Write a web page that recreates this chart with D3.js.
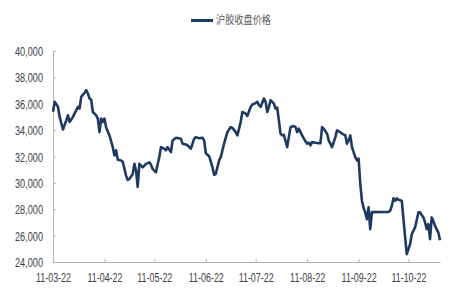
<!DOCTYPE html>
<html><head><meta charset="utf-8">
<script src="https://cdn.jsdelivr.net/npm/d3@7/dist/d3.min.js"></script>
<style>body{margin:0;background:#fff}svg{display:block}</style>
</head><body>
<svg id="c" width="450" height="300"></svg>
<script>
const seriesName = "沪胶收盘价格";
const dates = [
"2011-03-22","2011-03-23","2011-03-25","2011-03-26","2011-03-28","2011-03-30","2011-03-31",
"2011-04-01","2011-04-03","2011-04-06","2011-04-07","2011-04-08","2011-04-10","2011-04-11","2011-04-12","2011-04-13","2011-04-14","2011-04-15","2011-04-17","2011-04-18","2011-04-19","2011-04-20","2011-04-21","2011-04-22","2011-04-23","2011-04-25","2011-04-27","2011-04-28","2011-04-29","2011-04-30",
"2011-05-02","2011-05-03","2011-05-05","2011-05-06","2011-05-07","2011-05-09","2011-05-10","2011-05-11","2011-05-12","2011-05-13","2011-05-14","2011-05-15","2011-05-16","2011-05-17","2011-05-19","2011-05-20","2011-05-21","2011-05-23","2011-05-24","2011-05-25","2011-05-26","2011-05-28","2011-05-29","2011-05-30",
"2011-06-01","2011-06-02","2011-06-04","2011-06-07","2011-06-08","2011-06-10","2011-06-11","2011-06-13","2011-06-14","2011-06-15","2011-06-16","2011-06-18","2011-06-20","2011-06-21","2011-06-22","2011-06-24","2011-06-26","2011-06-27","2011-06-28","2011-06-30",
"2011-07-01","2011-07-03","2011-07-05","2011-07-07","2011-07-08","2011-07-10","2011-07-11","2011-07-13","2011-07-14","2011-07-16","2011-07-17","2011-07-19","2011-07-20","2011-07-21","2011-07-23","2011-07-24","2011-07-25","2011-07-27","2011-07-28","2011-07-29","2011-07-30","2011-07-31",
"2011-08-02","2011-08-03","2011-08-04","2011-08-06","2011-08-07","2011-08-08","2011-08-10","2011-08-11","2011-08-12","2011-08-14","2011-08-15","2011-08-16","2011-08-17","2011-08-19","2011-08-21","2011-08-22","2011-08-23","2011-08-24","2011-08-25","2011-08-27","2011-08-29","2011-08-30","2011-08-31",
"2011-09-01","2011-09-03","2011-09-04","2011-09-06","2011-09-08","2011-09-09","2011-09-11","2011-09-12","2011-09-14","2011-09-15","2011-09-16","2011-09-17","2011-09-18","2011-09-20","2011-09-21","2011-09-22","2011-09-23","2011-09-24","2011-09-25","2011-09-26","2011-09-27","2011-09-28","2011-09-29","2011-09-30",
"2011-10-10","2011-10-11","2011-10-12","2011-10-13","2011-10-14","2011-10-15","2011-10-16","2011-10-18","2011-10-19","2011-10-20","2011-10-21","2011-10-23","2011-10-24","2011-10-26","2011-10-28","2011-10-29","2011-10-31",
"2011-11-01","2011-11-02","2011-11-03","2011-11-04","2011-11-05","2011-11-06","2011-11-07","2011-11-09","2011-11-10"
];
const prices = [
35400,36150,35760,35000,34050,34740,35120,
34620,35000,35760,35630,36520,36830,37030,36780,36400,36300,35375,35120,34870,33850,34870,34620,34870,34200,33600,32710,32075,32460,31750,
31700,31600,30550,30220,30300,30680,31440,30930,29700,31440,31310,31180,31300,31440,31560,31370,31060,30800,31400,31950,32710,32590,32460,32710,
32330,33220,33420,33350,32970,32910,32850,32590,32970,33350,33470,33380,33420,33220,32250,32025,31190,30610,30680,31700,
31950,32970,33850,34230,34170,33850,33600,34610,35375,35250,35070,35760,35940,35980,36140,35890,35760,36400,36140,35375,35760,36270,
36015,35630,35700,33730,33600,33650,32710,33470,34230,34310,34230,33850,34110,33600,33150,32970,33050,32840,33090,33040,33010,33000,34230,
34110,33730,33220,32710,33470,33980,33850,33730,33600,32970,33220,33600,32710,31950,31700,31830,29920,28650,28100,27760,27250,28140,26490,27780,
27800,27885,28270,28830,28650,28830,28720,28650,27250,25900,24600,25350,26110,26620,27760,27760,27380,
27000,26490,26870,25730,27380,27120,26740,26230,25650
];
const yTicks = [24000,26000,28000,30000,32000,34000,36000,38000,40000];
const xTickDates = ["2011-03-22","2011-04-22","2011-05-22","2011-06-22","2011-07-22","2011-08-22","2011-09-22","2011-10-22"];

const parse = d3.utcParse("%Y-%m-%d");
const data = dates.map((d,i)=>({date:parse(d), value:prices[i]}));
const svg = d3.select("#c");
const x = d3.scaleUtc().domain([parse(dates[0]), parse(dates[dates.length-1])]).range([53,440]);
const y = d3.scaleLinear().domain([24000,40000]).range([262,51]);
const fontFam = "'Liberation Sans', Arial, sans-serif";
const axisColor = "#b4b4b4";
const textColor = "#404040";

const yAxis = svg.append("g").attr("transform","translate(53,0)")
  .call(d3.axisLeft(y).tickValues(yTicks).tickFormat(d3.format(",")).tickSizeInner(-3).tickSizeOuter(0).tickPadding(10));
const xAxis = svg.append("g").attr("transform","translate(0,262)")
  .call(d3.axisBottom(x).tickValues(xTickDates.map(parse)).tickFormat(d3.utcFormat("%y-%m-%d")).tickSizeInner(-3).tickSizeOuter(0).tickPadding(11));
[yAxis,xAxis].forEach(g=>{
  g.select(".domain").attr("stroke",axisColor).attr("stroke-width",1);
  g.selectAll(".tick line").attr("stroke",axisColor);
  g.selectAll("text").attr("fill",textColor).attr("font-family",fontFam).attr("font-size",12.5);
});
yAxis.selectAll("text").attr("dy","0.36em").each(function(){ this.setAttribute("textLength", 28); this.setAttribute("lengthAdjust","spacingAndGlyphs"); });
xAxis.selectAll("text").each(function(){ this.setAttribute("textLength", 35); this.setAttribute("lengthAdjust","spacingAndGlyphs"); });

const line = d3.line().x(d=>x(d.date)).y(d=>y(d.value));
svg.append("path").datum(data).attr("d",line)
  .attr("fill","none").attr("stroke","#1f3a60").attr("stroke-width",2.6).attr("stroke-linejoin","round");

const lg = svg.append("g");
lg.append("line").attr("x1",191).attr("x2",213).attr("y1",20.5).attr("y2",20.5).attr("stroke","#1f3a60").attr("stroke-width",3);
lg.append("text").attr("x",216).attr("y",20.5).attr("dy","0.36em").text(seriesName)
  .attr("font-family","'Noto Sans CJK SC', sans-serif").attr("font-size",11).attr("fill","#595959")
  .attr("textLength",55).attr("lengthAdjust","spacingAndGlyphs");
</script>
</body></html>
